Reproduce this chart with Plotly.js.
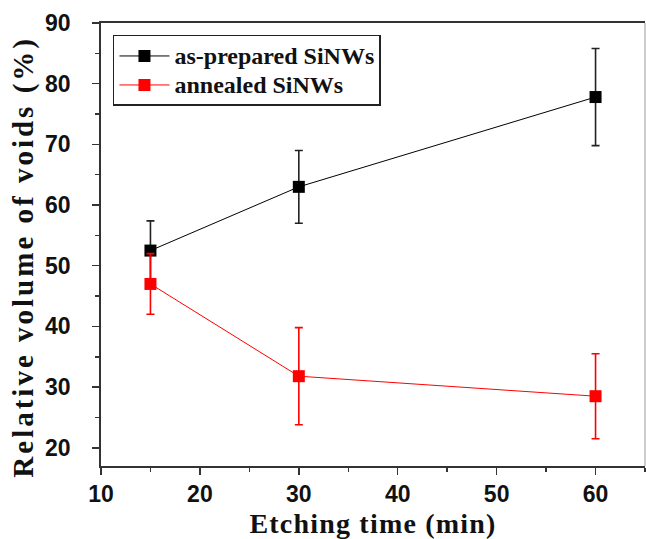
<!DOCTYPE html>
<html>
<head>
<meta charset="utf-8">
<script src="https://cdn.plot.ly/plotly-3.0.1.min.js"></script>
<style>
html,body{margin:0;padding:0;background:#fff;}
#chart{width:646px;height:539px;}
#chart .annotation-text{letter-spacing:3px;}
#chart .xtitle{letter-spacing:1.2px;}
.legendtext{font-size:24px !important;}
</style>
</head>
<body>
<div id="chart"></div>
<script>
const etchingTime = [15, 30, 60];
const asPrepared = [52.5, 63.0, 77.8];
const asPreparedErr = [4.9, 6.0, 8.0];
const annealed = [47.0, 31.8, 28.5];
const annealedErr = [5.0, 8.0, 7.0];
const seriesNames = ['as-prepared SiNWs', 'annealed SiNWs'];
const xTitle = 'Etching time (min)';
const yTitle = 'Relative volume of voids (%)';

const serif = 'Liberation Serif, Times New Roman, serif';
const sans = 'Liberation Sans, Arial, sans-serif';

const traces = [
  {
    x: etchingTime, y: asPrepared, name: seriesNames[0],
    type: 'scatter', mode: 'lines+markers',
    line: {color: '#000000', width: 1},
    marker: {symbol: 'square', size: 12, color: '#000000'},
    error_y: {type: 'data', array: asPreparedErr, visible: true, color: '#222222', thickness: 1.6, width: 4}
  },
  {
    x: etchingTime, y: annealed, name: seriesNames[1],
    type: 'scatter', mode: 'lines+markers',
    line: {color: '#ff0000', width: 1},
    marker: {symbol: 'square', size: 12, color: '#ff0000'},
    error_y: {type: 'data', array: annealedErr, visible: true, color: '#ff0000', thickness: 1.6, width: 4}
  }
];

const layout = {
  width: 646, height: 539,
  margin: {l: 101, r: 1, t: 23, b: 73},
  paper_bgcolor: '#ffffff', plot_bgcolor: '#ffffff',
  showlegend: true,
  legend: {
    x: 0.022, y: 0.973, xanchor: 'left', yanchor: 'top',
    bgcolor: '#ffffff', bordercolor: '#222222', borderwidth: 1.5,
    font: {family: serif, size: 20, color: '#111111', weight: 'bold'},
    itemwidth: 50, tracegroupgap: 0
  },
  xaxis: {
    range: [10, 65], dtick: 10, tick0: 10,
    showgrid: false, zeroline: false,
    showline: true, linecolor: '#333333', linewidth: 1.8, mirror: true,
    ticks: 'outside', ticklen: 7, tickwidth: 1.5, tickcolor: '#333333',
    minor: {dtick: 5, ticks: 'outside', ticklen: 4, tickwidth: 1.5, tickcolor: '#333333'},
    tickfont: {family: sans, size: 23, color: '#111111', weight: 'bold'},
    ticklabelstandoff: 0,
    title: {text: xTitle, standoff: 8, font: {family: serif, size: 28, color: '#111111', weight: 'bold'}}
  },
  yaxis: {
    range: [17, 90], dtick: 10, tick0: 20,
    showgrid: false, zeroline: false,
    showline: true, linecolor: '#333333', linewidth: 1.8,
    ticks: 'outside', ticklen: 7, tickwidth: 1.5, tickcolor: '#333333',
    minor: {dtick: 5, ticks: 'outside', ticklen: 4, tickwidth: 1.5, tickcolor: '#333333'},
    tickfont: {family: sans, size: 23, color: '#111111', weight: 'bold'},
    ticklabelstandoff: 17
  },
  annotations: [
    {text: yTitle, xref: 'paper', yref: 'paper', x: -0.142, y: 0.472, xanchor: 'center', yanchor: 'middle',
     textangle: -90, showarrow: false, font: {family: serif, size: 29, color: '#111111', weight: 'bold'}}
  ],
  shapes: [
    {type: 'line', xref: 'paper', yref: 'paper', x0: 1, x1: 1, y0: 0, y1: 1, line: {color: '#aaaaaa', width: 1.2}}
  ]
};

Plotly.newPlot('chart', traces, layout, {displayModeBar: false, staticPlot: true});
</script>
</body>
</html>
